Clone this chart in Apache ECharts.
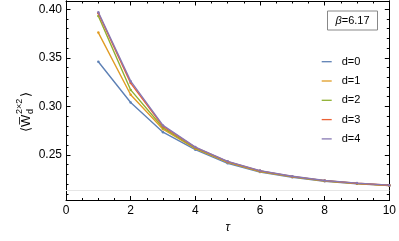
<!DOCTYPE html>
<html><head><meta charset="utf-8">
<script src="https://cdn.jsdelivr.net/npm/echarts@6/dist/echarts.min.js"></script>
<style>html,body{margin:0;padding:0;background:#fff}#c{width:399px;height:241px}</style>
</head><body><div id="c"></div>
<script>
const tau = [1,2,3,4,5,6,7,8,9,10];
const seriesNames = ['d=0','d=1','d=2','d=3','d=4'];
const d0 = [0.346, 0.304, 0.2735, 0.2555, 0.2415, 0.2325, 0.227, 0.223, 0.2205, 0.2185];
const d1 = [0.376, 0.312, 0.2765, 0.2565, 0.2425, 0.233, 0.2275, 0.2233, 0.2207, 0.2187];
const d2 = [0.393, 0.317, 0.278, 0.257, 0.243, 0.2335, 0.2278, 0.2235, 0.2208, 0.2188];
const d3 = [0.396, 0.324, 0.2795, 0.2578, 0.2432, 0.2337, 0.228, 0.2237, 0.221, 0.2189];
const d4 = [0.397, 0.326, 0.2805, 0.2582, 0.2435, 0.234, 0.2282, 0.2238, 0.2211, 0.219];
const refX = [0, 10];
const refY = [0.2135, 0.2135];
const yMajor = [0.25, 0.30, 0.35, 0.40];
const yMinor = [0.21,0.22,0.23,0.24,0.26,0.27,0.28,0.29,0.31,0.32,0.33,0.34,0.36,0.37,0.38,0.39];
const colors = ['#5E81B5','#E19C24','#8FB032','#EB6235','#8778B3'];
const allData = [d0,d1,d2,d3,d4];

const FONT = 'Liberation Sans, Arial, sans-serif';
const YMIN = 0.2032, YMAX = 0.4085;

function yAx(pos, labels, values, len){
  return {
    type:'value', position:pos, min:YMIN, max:YMAX,
    axisLine:{show:true, lineStyle:{color:'#000', width:1}},
    splitLine:{show:false},
    axisTick:{show:true, inside:true, length:len, customValues:values, lineStyle:{color:'#000'}},
    axisLabel:{show:labels, customValues:values, margin:4, fontSize:12, color:'#000', fontFamily:FONT,
      formatter: v => v.toFixed(2)}
  };
}
function xAx(pos, labels){
  return {
    type:'value', position:pos, min:0, max:10, interval:2,
    axisLine:{show:true, lineStyle:{color:'#000', width:1}},
    splitLine:{show:false},
    axisTick:{show:true, inside:true, length:4.5, lineStyle:{color:'#000'}},
    minorTick:{show:true, splitNumber:4, length:2.5, lineStyle:{color:'#000'}},
    axisLabel:{show:labels, margin:4.5, fontSize:12, color:'#000', fontFamily:FONT},
    name: labels ? 'τ' : '', nameLocation:'middle', nameGap:21,
    nameTextStyle:{fontSize:12, fontStyle:'italic', color:'#000', fontFamily:FONT}
  };
}

const series = [{
  type:'line', name:'ref', xAxisIndex:0, yAxisIndex:0,
  data: refX.map((x,i)=>[x, refY[i]]), symbol:'none', silent:true,
  lineStyle:{color:'#e6e6e6', width:1}, z:1
}];
allData.forEach((arr,k)=>{
  series.push({
    type:'line', name:seriesNames[k], xAxisIndex:0, yAxisIndex:0,
    data: tau.map((t,i)=>[t, arr[i]]),
    symbol:'circle', symbolSize:2.5, showSymbol:true,
    itemStyle:{color:colors[k]},
    lineStyle:{color:colors[k], width:1.4}, z:2+k
  });
});

const chart = echarts.init(document.getElementById('c'), null, {renderer:'canvas'});
chart.setOption({
  animation:false,
  backgroundColor:'#fff',
  grid:{left:66, right:9, top:1, bottom:40.5, containLabel:false},
  xAxis:[xAx('bottom', true), xAx('top', false)],
  yAxis:[yAx('left', true, yMajor, 4.5), yAx('left', false, yMinor, 2.5),
         yAx('right', false, yMajor, 4.5), yAx('right', false, yMinor, 2.5)],
  legend:{
    data: seriesNames, orient:'vertical', left:321.7, top:52.2, padding:0,
    icon:'rect', itemWidth:10, itemHeight:1.3, itemGap:0.3,
    textStyle:{fontSize:11, color:'#000', fontFamily:FONT, lineHeight:19, padding:[0,0,0,5]}
  },
  graphic:[
    {type:'rect', shape:{x:327.5, y:11, width:50, height:19},
     style:{fill:'#fff', stroke:'#888', lineWidth:1}, z:100},
    {type:'text', x:352.5, y:20.5, z:101,
     style:{text:'{i|β}=6.17', align:'center', verticalAlign:'middle', fill:'#000',
       font:'11px '+FONT, rich:{i:{fontStyle:'italic', fontSize:11, fontFamily:FONT}}}},
    {type:'group', x:26, y:105, rotation:Math.PI/2, z:100, children:[
      {type:'text', x:-27, y:0, style:{text:'⟨W̅', fill:'#000', font:'13px '+FONT, align:'left', verticalAlign:'middle'}},
      {type:'text', x:-9, y:-6, style:{text:'2×2', fill:'#000', font:'9px '+FONT, align:'left', verticalAlign:'middle'}},
      {type:'text', x:-9, y:5, style:{text:'d', fill:'#000', font:'9px '+FONT, align:'left', verticalAlign:'middle'}},
      {type:'text', x:8, y:0, style:{text:'⟩', fill:'#000', font:'13px '+FONT, align:'left', verticalAlign:'middle'}}
    ]}
  ],
  series: series
});
</script></body></html>
